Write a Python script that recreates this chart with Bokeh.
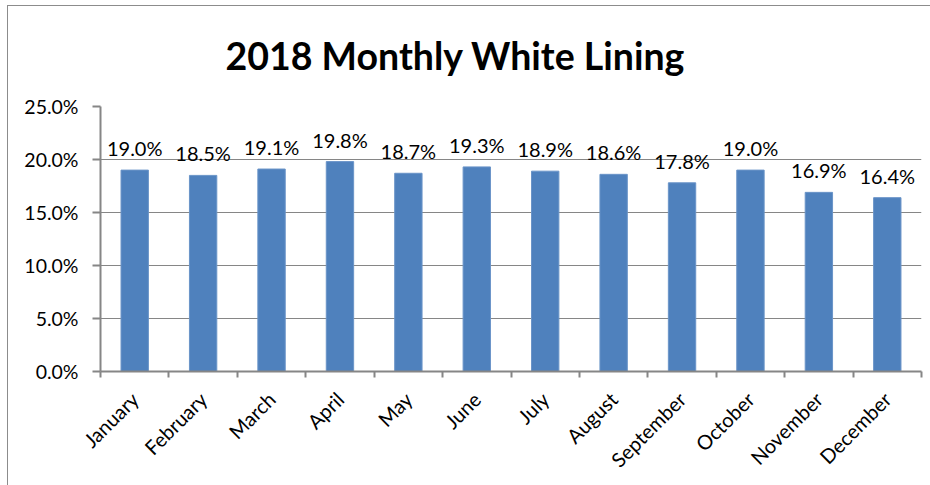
import math
from bokeh.plotting import figure
from bokeh.models import Range1d, FixedTicker, NumeralTickFormatter, ColumnDataSource
from bokeh.core.properties import value
from bokeh.embed import file_html
from bokeh.resources import INLINE

months = ["January", "February", "March", "April", "May", "June", "July",
          "August", "September", "October", "November", "December"]
white_lining = [0.190, 0.185, 0.191, 0.198, 0.187, 0.193, 0.189, 0.186,
                0.178, 0.190, 0.169, 0.164]
y_ticks = [0.0, 0.05, 0.10, 0.15, 0.20, 0.25]
title_text = "2018 Monthly White Lining"

x_pos = [i + 0.5 for i in range(len(months))]
bar_labels = [f"{v * 100:.1f}%" for v in white_lining]
src = ColumnDataSource(dict(x=x_pos, top=white_lining, label=bar_labels))

p = figure(width=923, height=480,
           x_range=Range1d(0, len(months)), y_range=Range1d(0, 0.25),
           output_backend="svg", toolbar_location=None,
           min_border_left=92, min_border_right=10,
           min_border_top=99, min_border_bottom=115)
p.styles = {"margin-left": "7px", "margin-top": "5px",
            "border-left": "1px solid #8c8c8c", "border-top": "1px solid #8c8c8c"}

p.title.text = title_text
p.title.align = "left"
p.title.offset = 125
p.title.vertical_align = "top"
p.title.standoff = 53
p.title.text_font = "Lato"
p.title.text_font_style = "bold"
p.title.text_font_size = "37.5px"
p.title.text_color = "black"

p.outline_line_color = None
p.xgrid.visible = False
p.ygrid.grid_line_color = "#868686"
p.ygrid.grid_line_width = 1

p.vbar(x="x", top="top", width=0.4, source=src,
       fill_color="#4F81BD", line_color="#6a94c8", line_width=1)

p.text(x="x", y="top", text="label", source=src,
       text_align="center", text_baseline="alphabetic", y_offset=-22,
       text_font=value("Lato"), text_font_size="20px", text_color="black")

ya = p.yaxis[0]
ya.ticker = FixedTicker(ticks=y_ticks)
ya.formatter = NumeralTickFormatter(format="0.0%")
ya.major_tick_out = 8
ya.major_tick_in = 0
ya.minor_tick_out = 0
ya.minor_tick_in = 0
ya.axis_line_color = "#868686"
ya.axis_line_width = 2
ya.major_tick_line_color = "#868686"
ya.major_tick_line_width = 2
ya.major_label_text_font = "Lato"
ya.major_label_text_font_size = "19.5px"
ya.major_label_text_color = "black"
ya.major_label_standoff = 14

xa = p.xaxis[0]
xa.ticker = FixedTicker(ticks=x_pos, minor_ticks=list(range(len(months) + 1)))
xa.major_label_overrides = {xv: m for xv, m in zip(x_pos, months)}
xa.major_tick_out = 0
xa.major_tick_in = 0
xa.minor_tick_out = 6
xa.minor_tick_in = 0
xa.minor_tick_line_color = "#868686"
xa.minor_tick_line_width = 2
xa.axis_line_color = "#868686"
xa.axis_line_width = 2
xa.major_label_orientation = math.pi / 4
xa.major_label_text_font = "Lato"
xa.major_label_text_font_size = "20px"
xa.major_label_text_color = "black"
xa.major_label_standoff = 18

open("out.html", "w").write(file_html(p, INLINE))
